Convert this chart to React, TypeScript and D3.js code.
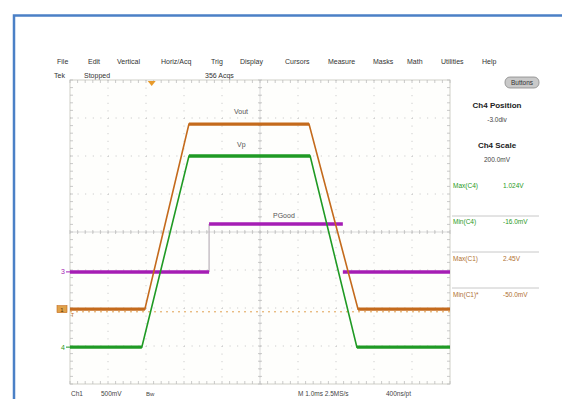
import React from "react";
import * as d3 from "d3";

const menuItems = ["File", "Edit", "Vertical", "Horiz/Acq", "Trig", "Display", "Cursors", "Measure", "Masks", "Math", "Utilities", "Help"];
const menuX = [57, 88, 117, 161, 211, 240, 285, 328, 373, 407, 441, 482];

// traces: time in divisions (0..10), level in divisions (0..8 from bottom)
const voutT = [0, 1.97, 3.13, 6.29, 7.58, 10];
const voutV = [1.97, 1.97, 6.84, 6.84, 1.97, 1.97];
const vpT = [0, 1.89, 3.13, 6.32, 7.55, 10];
const vpV = [0.97, 0.97, 6.0, 6.0, 0.97, 0.97];
const pgT = [0, 3.66, 3.66, 7.18, 7.18, 10];
const pgV = [2.95, 2.95, 4.21, 4.21, 2.95, 2.95];
const triggerLevel = 1.9;
const triggerTime = 2.15;

const measLabels = ["Max(C4)", "Min(C4)", "Max(C1)", "Min(C1)*"];
const measValues = ["1.024V", "-16.0mV", "2.45V", "-50.0mV"];

const ORANGE = "#c46a1c";
const GREEN = "#1f9a24";
const PURPLE = "#a51db4";
const FONT = "'Liberation Sans', Arial, sans-serif";

export default function App() {
  const x = d3.scaleLinear().domain([0, 10]).range([70, 450]);
  const y = d3.scaleLinear().domain([0, 8]).range([384, 80]);
  const line = d3.line<[number, number]>().x((d) => x(d[0])).y((d) => y(d[1]));
  const zip = (t: number[], v: number[]) => t.map((ti, i) => [ti, v[i]] as [number, number]);

  const vout = zip(voutT, voutV);
  const vp = zip(vpT, vpV);
  const pg = zip(pgT, pgV);

  const horizSegs = (pts: [number, number][]) => {
    const segs: [number, number][][] = [];
    for (let i = 0; i < pts.length - 1; i++) {
      if (pts[i][1] === pts[i + 1][1]) segs.push([pts[i], pts[i + 1]]);
    }
    return segs;
  };

  const majorX = d3.range(1, 10);
  const majorY = d3.range(1, 8);
  const minorX = d3.range(0, 10.01, 0.2);
  const minorY = d3.range(0, 8.01, 0.2);

  const measY = [188, 224, 261, 297];
  const sepY = [216, 252, 288];

  return (
    <svg width={562} height={399} style={{ position: "absolute", left: 0, top: 0, background: "#fff" }} fontFamily={FONT}>
      <rect x={0} y={0} width={562} height={399} fill="#fff" />
      <rect x={14} y={15.5} width={600} height={500} fill="none" stroke="#4b80c6" strokeWidth={2.5} />

      {/* menu */}
      {menuItems.map((m, i) => (
        <text key={m} x={menuX[i]} y={64} fontSize={7} fill="#333">{m}</text>
      ))}
      <text x={54} y={78} fontSize={7} fill="#333">Tek</text>
      <text x={84} y={78} fontSize={7} fill="#333">Stopped</text>
      <text x={205} y={78} fontSize={7} fill="#333">356 Acqs</text>

      {/* Buttons */}
      <rect x={505} y={77} width={34} height={11} rx={5} fill="#c9c9c9" stroke="#888" strokeWidth={0.8} />
      <text x={522} y={85} fontSize={6.5} textAnchor="middle" fill="#333">Buttons</text>

      {/* graticule */}
      <rect x={70} y={80} width={380} height={304} fill="#fefefc" stroke="#d0d0c8" strokeWidth={1} />
      {majorX.map((t) => (
        <line key={"gx" + t} x1={x(t)} x2={x(t)} y1={80} y2={384} stroke="#c4c4c4" strokeWidth={1} strokeDasharray="1,6.6" />
      ))}
      {majorY.map((v) => (
        <line key={"gy" + v} x1={70} x2={450} y1={y(v)} y2={y(v)} stroke="#c4c4c4" strokeWidth={1} strokeDasharray="1,6.6" />
      ))}
      <line x1={x(5)} x2={x(5)} y1={80} y2={384} stroke="#d2d2d2" strokeWidth={0.8} />
      <line x1={70} x2={450} y1={y(4)} y2={y(4)} stroke="#d2d2d2" strokeWidth={0.8} />
      {minorX.map((t, i) => (
        <g key={"mx" + i} stroke="#bdbdbd" strokeWidth={0.8}>
          <line x1={x(t)} x2={x(t)} y1={80} y2={83} />
          <line x1={x(t)} x2={x(t)} y1={381} y2={384} />
          <line x1={x(t)} x2={x(t)} y1={y(4) - 2} y2={y(4) + 2} />
        </g>
      ))}
      {minorY.map((v, i) => (
        <g key={"my" + i} stroke="#bdbdbd" strokeWidth={0.8}>
          <line x1={70} x2={73} y1={y(v)} y2={y(v)} />
          <line x1={447} x2={450} y1={y(v)} y2={y(v)} />
          <line x1={x(5) - 2} x2={x(5) + 2} y1={y(v)} y2={y(v)} />
        </g>
      ))}

      {/* trigger level */}
      <line x1={70} x2={450} y1={y(triggerLevel)} y2={y(triggerLevel)} stroke="#e0a050" strokeWidth={1} strokeDasharray="2,4" />
      <path d={`M${x(triggerTime) - 4},81 L${x(triggerTime) + 4},81 L${x(triggerTime)},86 Z`} fill="#e89a2a" />

      {/* PGood */}
      <line x1={x(pgT[1])} x2={x(pgT[2])} y1={y(pgV[1])} y2={y(pgV[2])} stroke="#b8b0b8" strokeWidth={1.2} />
      {horizSegs(pg).map((s, i) => (
        <path key={"pg" + i} d={line(s) || ""} stroke={PURPLE} strokeWidth={3.5} fill="none" />
      ))}

      {/* Vout */}
      <path d={line(vout) || ""} stroke={ORANGE} strokeWidth={1.6} fill="none" />
      {horizSegs(vout).map((s, i) => (
        <path key={"vo" + i} d={line(s) || ""} stroke={ORANGE} strokeWidth={3.2} fill="none" />
      ))}

      {/* Vp */}
      <path d={line(vp) || ""} stroke={GREEN} strokeWidth={1.6} fill="none" />
      {horizSegs(vp).map((s, i) => (
        <path key={"vp" + i} d={line(s) || ""} stroke={GREEN} strokeWidth={3.4} fill="none" />
      ))}

      {/* trace labels */}
      <text x={234} y={114} fontSize={7} fill="#555">Vout</text>
      <text x={237} y={147} fontSize={7} fill="#555">Vp</text>
      <text x={273} y={218} fontSize={7} fill="#555">PGood</text>

      {/* channel markers */}
      <text x={65} y={y(pgV[0]) + 2.5} fontSize={7} fill={PURPLE} textAnchor="end">3</text>
      <line x1={66} x2={70} y1={y(pgV[0])} y2={y(pgV[0])} stroke={PURPLE} strokeWidth={1} />
      <text x={65} y={y(vpV[0]) + 2.5} fontSize={7} fill={GREEN} textAnchor="end">4</text>
      <line x1={66} x2={70} y1={y(vpV[0])} y2={y(vpV[0])} stroke={GREEN} strokeWidth={1} />
      <rect x={57} y={y(voutV[0]) - 3.5} width={10} height={7} fill="#e0a24a" stroke={ORANGE} strokeWidth={0.6} />
      <text x={62} y={y(voutV[0]) + 2.5} fontSize={6} fill="#5a3000" textAnchor="middle">1</text>
      <text x={71} y={y(voutV[0]) + 8} fontSize={5} fill={ORANGE}>T</text>

      {/* right panel */}
      <text x={497} y={108} fontSize={8} fontWeight="bold" textAnchor="middle" fill="#222">Ch4 Position</text>
      <text x={497} y={122} fontSize={6.5} textAnchor="middle" fill="#444">-3.0div</text>
      <text x={497} y={148} fontSize={8} fontWeight="bold" textAnchor="middle" fill="#222">Ch4 Scale</text>
      <text x={497} y={162} fontSize={6.5} textAnchor="middle" fill="#444">200.0mV</text>
      {sepY.map((sy) => (
        <line key={"sep" + sy} x1={452} x2={539} y1={sy} y2={sy} stroke="#c8c8c8" strokeWidth={1} />
      ))}
      {measLabels.map((m, i) => (
        <g key={m}>
          <text x={453} y={measY[i]} fontSize={6.5} fill={i < 2 ? GREEN : "#b07030"}>{m}</text>
          <text x={503} y={measY[i]} fontSize={6.5} fill={i < 2 ? GREEN : "#b07030"}>{measValues[i]}</text>
        </g>
      ))}

      {/* bottom status */}
      <text x={71} y={396} fontSize={6.5} fill="#444">Ch1</text>
      <text x={101} y={396} fontSize={6.5} fill="#444">500mV</text>
      <text x={146} y={396} fontSize={6} fill="#444">Bw</text>
      <text x={298} y={396} fontSize={6.5} fill="#444">M 1.0ms 2.5MS/s</text>
      <text x={386} y={396} fontSize={6.5} fill="#444">400ns/pt</text>
    </svg>
  );
}
